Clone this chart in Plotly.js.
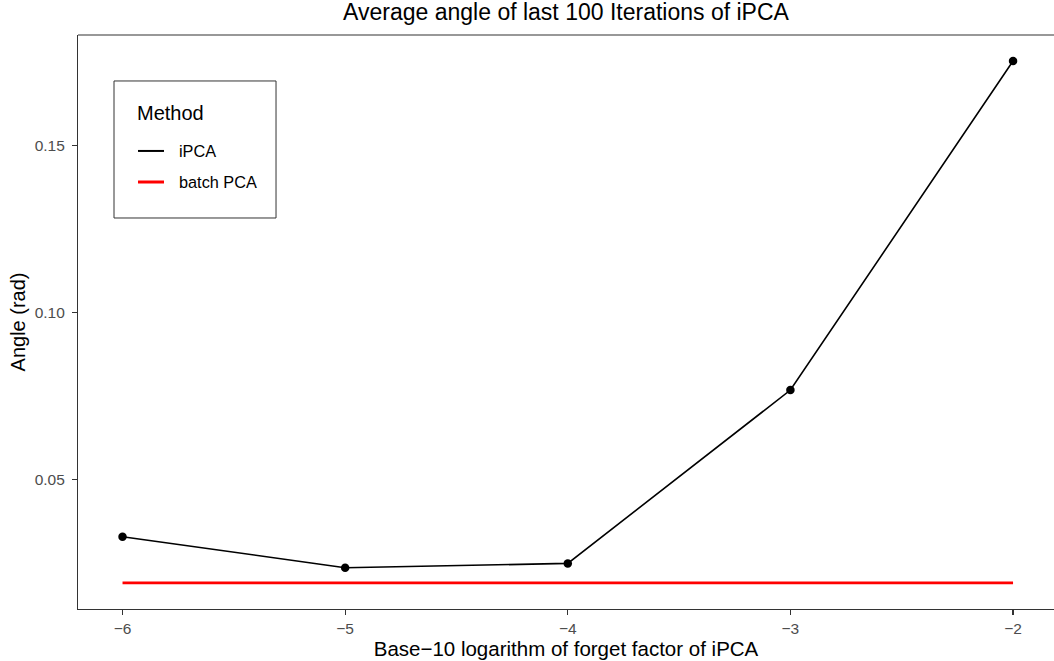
<!DOCTYPE html>
<html>
<head>
<meta charset="utf-8">
<script src="https://cdn.plot.ly/plotly-3.0.1.min.js"></script>
<style>html,body{margin:0;padding:0;background:#fff;}#chart{width:1054px;height:661px;}</style>
</head>
<body>
<div id="chart"></div>
<script>
const logForget = [-6, -5, -4, -3, -2];
const ipcaAngle = [0.0330, 0.0237, 0.0250, 0.0769, 0.1754];
const batchX = [-6, -2];
const batchAngle = [0.01916, 0.01916];
const yTicks = [0.05, 0.10, 0.15];
const xTicks = [-6, -5, -4, -3, -2];
const seriesNames = ['iPCA', 'batch PCA'];
const seriesColors = ['#000000', '#ff0000'];
const seriesWidths = [1.6, 2.6];
const legendTitle = 'Method';

const traces = [
  {x: logForget, y: ipcaAngle, name: seriesNames[0], type: 'scatter', mode: 'lines+markers',
   line: {color: seriesColors[0], width: seriesWidths[0]}, marker: {color: seriesColors[0], size: 8.5},
   showlegend: false},
  {x: batchX, y: batchAngle, name: seriesNames[1], type: 'scatter', mode: 'lines',
   line: {color: seriesColors[1], width: seriesWidths[1]}, showlegend: false}
];

// legend box (paper coords)
const lgX0 = 0.0369, lgX1 = 0.2029, lgY0 = 0.6812, lgY1 = 0.9199;
const shapes = [
  {type: 'line', xref: 'paper', yref: 'paper', x0: 0, x1: 1, y0: 1, y1: 1, line: {color: '#333333', width: 1.1}},
  {type: 'rect', xref: 'paper', yref: 'paper', x0: lgX0, x1: lgX1, y0: lgY0, y1: lgY1, line: {color: '#333333', width: 1}, fillcolor: '#ffffff', layer: 'above'}
];
const annotations = [
  {xref: 'paper', yref: 'paper', x: 0.0584, y: 0.864, xanchor: 'left', yanchor: 'middle', showarrow: false,
   text: legendTitle, font: {size: 20, color: '#000000'}}
];
const entryY = [0.798, 0.7439];
seriesNames.forEach((n, i) => {
  shapes.push({type: 'line', xref: 'paper', yref: 'paper', x0: 0.0615, x1: 0.0881, y0: entryY[i], y1: entryY[i],
               line: {color: seriesColors[i], width: seriesWidths[i] + 0.4}, layer: 'above'});
  annotations.push({xref: 'paper', yref: 'paper', x: 0.1015, y: entryY[i], xanchor: 'left', yanchor: 'middle', showarrow: false,
                    text: n, font: {size: 16.3, color: '#000000'}});
});

const layout = {
  width: 1054, height: 661,
  margin: {l: 78, r: 0, t: 35, b: 52},
  paper_bgcolor: '#ffffff', plot_bgcolor: '#ffffff',
  font: {family: 'Liberation Sans, Arial, sans-serif', color: '#000000'},
  title: {text: 'Average angle of last 100 Iterations of iPCA', x: 0.537, xanchor: 'center', y: 0.982, yanchor: 'middle', font: {size: 23, color: '#000000'}},
  xaxis: {range: [-6.2, -1.816], tickvals: xTicks, ticks: 'outside', ticklen: 5, tickwidth: 1.1, tickcolor: '#333333',
          showline: true, linecolor: '#333333', linewidth: 1.1, showgrid: false, zeroline: false,
          tickfont: {size: 15.5, color: '#4d4d4d'},
          title: {text: 'Base\u221210 logarithm of forget factor of iPCA', font: {size: 20.5, color: '#000000'}, standoff: 4}},
  yaxis: {range: [0.01135, 0.1832], tickvals: yTicks, tickformat: '.2f', ticks: 'outside', ticklen: 5, tickwidth: 1.1, tickcolor: '#333333',
          showline: true, linecolor: '#333333', linewidth: 1.1, showgrid: false, zeroline: false, ticklabelstandoff: 4,
          tickfont: {size: 15.5, color: '#4d4d4d'},
          title: {text: 'Angle (rad)', font: {size: 20, color: '#000000'}, standoff: 3}},
  shapes: shapes,
  annotations: annotations,
  showlegend: false
};

Plotly.newPlot('chart', traces, layout, {displayModeBar: false, staticPlot: true});
</script>
</body>
</html>
